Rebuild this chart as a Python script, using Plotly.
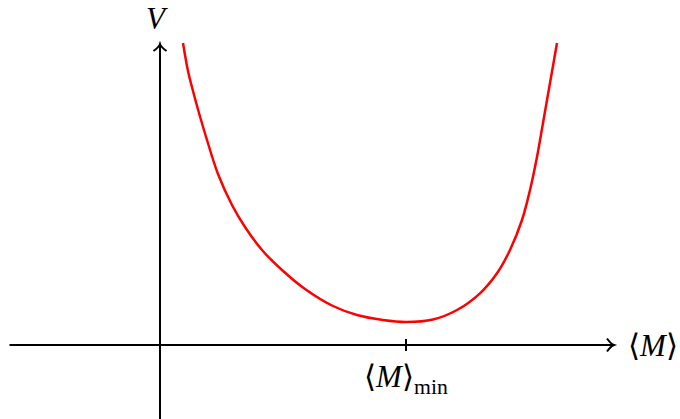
import plotly.graph_objects as go

# Potential curve V(<M>) (axis units: 100 px = 1)
M_VALUES = [0.23, 0.28, 0.33, 0.39, 0.47, 0.58, 0.72, 0.85, 1.02, 1.22,
            1.45, 1.73, 1.97, 2.23, 2.46, 2.73, 2.97, 3.20, 3.37, 3.50,
            3.62, 3.70, 3.77, 3.83, 3.90, 3.97]
V_VALUES = [3.02, 2.74, 2.54, 2.32, 2.05, 1.71, 1.40, 1.18, 0.95, 0.75,
            0.56, 0.39, 0.30, 0.25, 0.23, 0.255, 0.35, 0.517, 0.717, 0.95,
            1.25, 1.55, 1.88, 2.22, 2.62, 3.02]

M_MIN = 2.46
X_LABEL = "⟨<i>M</i>⟩"
Y_LABEL = "<i>V</i>"
TICK_LABEL = "⟨<i>M</i>⟩<sub>min</sub>"

X_RANGE = [-1.6, 5.2]
Y_RANGE = [-0.74, 3.45]
AXIS_X_START = -1.505
AXIS_X_END = 4.54
AXIS_Y_END = 3.01

FONT = "Liberation Serif, DejaVu Serif, serif"
INK = "black"

fig = go.Figure(go.Scatter(
    x=M_VALUES,
    y=V_VALUES,
    mode="lines",
    line=dict(color="#FF0000", width=2.5, shape="spline", smoothing=1.0),
    hoverinfo="skip",
))

line_style = dict(color=INK, width=2)
shapes = [
    # horizontal axis
    dict(type="line", x0=AXIS_X_START, x1=AXIS_X_END - 0.01, y0=0, y1=0, line=line_style),
    # vertical axis
    dict(type="line", x0=0, x1=0, y0=Y_RANGE[0], y1=AXIS_Y_END + 0.01, line=line_style),
    # arrowheads
    dict(type="path", line=line_style,
         path=f"M {AXIS_X_END - 0.07},0.065 Q {AXIS_X_END - 0.03},0.01 {AXIS_X_END},0 "
              f"Q {AXIS_X_END - 0.03},-0.01 {AXIS_X_END - 0.07},-0.065"),
    dict(type="path", line=line_style,
         path=f"M -0.065,{AXIS_Y_END - 0.07} Q -0.01,{AXIS_Y_END - 0.03} 0,{AXIS_Y_END} "
              f"Q 0.01,{AXIS_Y_END - 0.03} 0.065,{AXIS_Y_END - 0.07}"),
    # tick at the minimum
    dict(type="line", x0=M_MIN, x1=M_MIN, y0=-0.06, y1=0.06, line=line_style),
]

annotations = [
    dict(x=AXIS_X_END + 0.12, y=0, text=X_LABEL, showarrow=False,
         xanchor="left", yanchor="middle", font=dict(family=FONT, size=31, color=INK)),
    dict(x=-0.03, y=AXIS_Y_END + 0.06, text=Y_LABEL, showarrow=False,
         xanchor="center", yanchor="bottom", font=dict(family=FONT, size=31, color=INK)),
    dict(x=M_MIN, y=-0.12, text=TICK_LABEL, showarrow=False,
         xanchor="center", yanchor="top", font=dict(family=FONT, size=31, color=INK)),
]

fig.update_layout(
    width=680,
    height=419,
    margin=dict(l=0, r=0, t=0, b=0),
    paper_bgcolor="white",
    plot_bgcolor="white",
    showlegend=False,
    shapes=shapes,
    annotations=annotations,
    xaxis=dict(range=X_RANGE, visible=False, fixedrange=True),
    yaxis=dict(range=Y_RANGE, visible=False, fixedrange=True),
)

# drop the page's default body margin so the figure fills the window exactly
fig.write_html(
    "out.html",
    config={"displayModeBar": False},
    post_script="document.body.style.margin='0';document.body.style.overflow='hidden';",
)
